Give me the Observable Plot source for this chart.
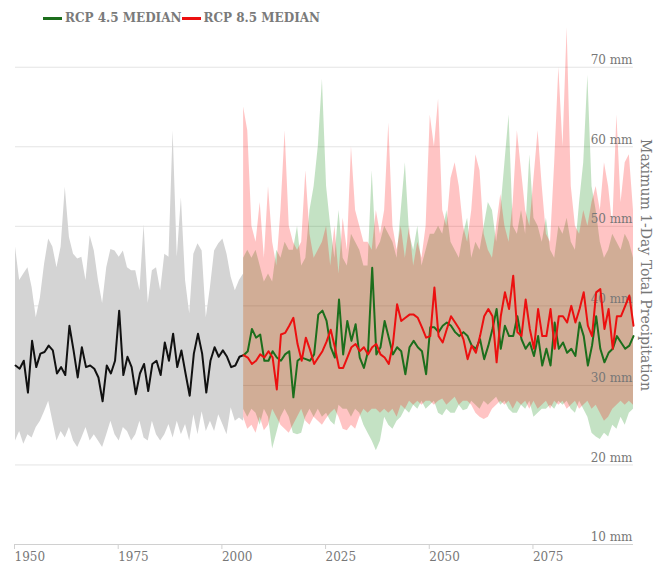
<!DOCTYPE html>
<html>
<head>
<meta charset="utf-8">
<script src="https://cdn.jsdelivr.net/npm/d3@7"></script>
<script src="https://cdn.jsdelivr.net/npm/@observablehq/plot@0.6"></script>
<style>
  body { margin: 0; background: #fff; }
  #wrap { position: relative; width: 662px; height: 567px; font-family: "DejaVu Serif", serif; }
  #legend { position: absolute; left: 43px; top: 11px; display: flex; align-items: center; font-size: 12px; font-weight: bold; color: #7a7a7a; white-space: nowrap; }
  .sw { display: inline-block; width: 19px; height: 3px; margin-right: 3px; }
</style>
</head>
<body>
<div id="wrap">
  <div id="chart"></div>
  <div id="legend"></div>
</div>
<script>
// ---- Data ----
const histStartYear = 1950;   // historical period 1950–2005
const projStartYear = 2005;   // projections 2005–2099

const histMedian = [
  32.5, 32.1, 33.1, 29.1, 35.6, 32.3, 34.0, 34.2, 35.0, 34.4,
  31.5, 32.3, 31.3, 37.5, 34.4, 31.0, 34.8, 32.3, 32.5, 32.1,
  31.0, 28.0, 32.5, 31.5, 33.1, 39.4, 31.3, 33.6, 32.3, 28.9,
  31.5, 32.7, 29.3, 32.7, 33.1, 31.3, 35.4, 33.1, 36.5, 32.3,
  34.4, 31.5, 28.7, 34.0, 36.5, 34.0, 29.1, 33.1, 34.8, 33.6,
  34.4, 33.6, 32.3, 32.5, 33.6, 33.8
];
const histHigh = [
  47.4, 43.2, 44.0, 44.8, 42.3, 38.5, 41.0, 45.2, 48.4, 47.4,
  44.8, 47.4, 54.9, 48.6, 46.5, 45.9, 46.1, 43.2, 48.8, 46.9,
  43.2, 40.3, 44.8, 47.1, 46.9, 46.1, 46.9, 44.8, 44.4, 44.4,
  41.9, 50.2, 40.3, 44.4, 44.8, 41.9, 46.5, 46.1, 62.0, 46.1,
  53.6, 43.2, 39.0, 46.5, 47.8, 46.9, 38.5, 42.3, 46.9, 47.8,
  48.4, 46.5, 43.6, 41.9, 43.2, 44.0
];
const histLow = [
  23.0, 24.2, 22.6, 23.8, 23.4, 24.7, 25.5, 26.7, 28.0, 25.5,
  23.0, 24.2, 23.4, 24.7, 23.0, 22.2, 23.4, 24.7, 23.0, 23.8,
  23.0, 22.2, 23.8, 25.5, 23.8, 23.0, 24.7, 24.2, 23.0, 23.8,
  25.5, 23.4, 23.0, 25.5, 23.8, 23.0, 23.8, 25.1, 23.4, 25.5,
  23.8, 25.1, 23.0, 26.3, 23.8, 26.7, 24.2, 25.5, 24.2, 26.3,
  25.1, 23.8, 27.2, 25.5, 25.9, 25.5
];

const rcp45Median = [
  33.8, 34.3, 37.1, 36.0, 36.4, 33.1, 33.1, 34.3, 33.5, 33.1,
  33.9, 34.3, 28.5, 33.1, 33.5, 33.3, 33.1, 33.9, 38.9, 39.4,
  38.1, 34.8, 33.5, 40.8, 33.9, 38.1, 35.6, 37.7, 33.5, 32.2,
  34.3, 44.8, 33.9, 34.8, 38.1, 36.0, 33.9, 34.8, 34.3, 31.4,
  34.8, 35.6, 34.8, 34.3, 31.4, 37.3, 37.3, 36.7, 37.5, 37.9,
  37.5, 36.7, 36.2, 36.7, 36.2, 35.0, 34.6, 35.8, 33.3, 35.0,
  37.1, 39.6, 34.6, 37.5, 36.2, 36.2, 38.7, 35.8, 34.6, 35.4,
  33.7, 36.2, 32.5, 34.6, 32.5, 37.9, 34.6, 35.4, 34.1, 34.6,
  33.7, 37.9, 36.2, 32.5, 35.0, 38.7, 34.6, 32.9, 34.1, 34.6,
  36.2, 35.4, 34.6, 35.0, 36.2
];
const rcp45High = [
  46, 47, 46, 47, 45, 43, 44, 43, 47, 46,
  48, 47, 47, 50, 45, 46, 52, 55, 60, 68.5,
  55, 50, 46, 52, 46, 45, 49, 48, 47, 45,
  45, 57, 47, 48, 50, 49, 48, 46, 52, 58,
  49, 47, 50, 45, 47, 49, 49, 50, 49, 52,
  48, 47, 46, 49, 51, 46, 48, 47, 50, 53,
  52, 48, 52, 58, 64, 50, 49, 52, 49, 59,
  51, 50, 48, 51, 47, 46, 50, 49, 51, 48,
  47, 53, 58, 69, 55, 52, 48, 46, 47, 49,
  48, 47, 49, 48, 46
];
const rcp45Low = [
  27, 26, 27, 26.5, 25, 27, 26, 22, 24, 26,
  27, 26, 24, 23.8, 24, 26, 27, 26, 27, 26,
  26.5, 25.5, 25, 27.5, 27, 27, 26, 27, 26.5, 25,
  24, 23, 21.8, 23, 26, 25, 24.5, 25.5, 26, 27,
  26.5, 27.5, 27, 28, 27, 27.5, 28, 26.5, 26.2, 27,
  26.5, 26.5, 27.5, 26.8, 27, 28, 27.5, 27, 28, 27.5,
  28, 28.5, 27.5, 28, 27, 26.5, 26.5, 27.5, 27, 28,
  26, 26.5, 27, 27, 27.5, 27, 28, 27.5, 28, 27,
  26.5, 28, 27, 26, 24, 23.5, 23.2, 24, 23.5, 25,
  24.5, 26, 25, 26.5, 27
];

const rcp85Median = [
  33.8, 33.5, 32.7, 33.1, 33.9, 33.5, 34.3, 33.5, 29.5, 36.4,
  36.6, 37.5, 38.5, 35.2, 33.1, 36.0, 34.5, 32.7, 33.5, 34.3,
  35.5, 37.0, 34.8, 32.2, 32.2, 33.5, 34.8, 35.2, 34.3, 34.8,
  33.9, 34.8, 35.2, 33.9, 33.5, 32.7, 35.2, 40.2, 38.1, 38.5,
  38.9, 38.9, 38.5, 37.3, 36.0, 36.2, 42.3, 36.2, 35.4, 37.1,
  38.7, 37.9, 37.1, 35.8, 33.3, 35.0, 34.1, 36.2, 38.7, 39.6,
  38.7, 32.9, 38.7, 41.7, 39.6, 43.8, 36.7, 36.2, 40.8, 37.1,
  34.6, 39.6, 36.2, 36.2, 39.6, 34.6, 38.7, 38.7, 37.9, 40.0,
  37.9, 39.6, 41.7, 37.5, 36.2, 41.7, 42.1, 37.1, 39.6, 34.6,
  38.7, 38.7, 40.0, 41.3, 37.5
];
const rcp85High = [
  65, 62, 50, 48, 53, 46, 55, 48, 45, 52,
  62, 50, 48, 47, 48, 57, 49, 46, 47, 48,
  50, 45, 50, 44, 51, 47, 60, 52, 50, 48,
  48, 47, 52, 49, 52, 63, 50, 47, 50, 46,
  50, 45, 48, 46, 50, 64, 60, 66, 52, 50,
  56, 58, 55, 50, 48, 52, 59, 57, 49, 47,
  46, 50, 54, 50, 48, 53, 62, 57, 52, 50,
  56, 62, 55, 49, 48, 58, 70, 60, 75, 55,
  50, 49, 52, 50, 53, 55, 52, 58, 55, 50,
  64, 53, 58, 59, 52
];
const rcp85Low = [
  26, 24.5, 25, 24, 26, 24.3, 25, 27, 26, 25,
  24.5, 24, 25, 26, 27, 25.5, 25, 26, 25.5, 25,
  25.8, 26.5, 27, 26, 24.5, 24.3, 25, 24.5, 26, 27,
  26.5, 27, 27, 26.5, 27, 26.5, 27, 26, 27.5, 27,
  28, 27.5, 28, 27.5, 28, 28, 27.5, 28, 28.3, 27.5,
  28, 28.5, 27.5, 28, 28, 27.5, 26.5, 26, 25.7, 26,
  27, 27.5, 28, 27.5, 28, 27, 28, 27.5, 28, 27,
  28, 27, 27.5, 28, 27, 28, 27.5, 28, 27, 27.5,
  28, 27, 27.5, 28, 27, 27.5, 26.5, 25.5, 26, 27,
  27.5, 28, 27.5, 28, 27.5
];

const xTicks = [1950, 1975, 2000, 2025, 2050, 2075];
const yTicks = [10, 20, 30, 40, 50, 60, 70];
const seriesNames = ["RCP 4.5 MEDIAN", "RCP 8.5 MEDIAN"];
const axisTitle = "Maximum 1-Day Total Precipitation";

// ---- Tables ----
const hist = histMedian.map((m, i) => ({year: histStartYear + i, med: m, lo: histLow[i], hi: histHigh[i]}));
const p45 = rcp45Median.map((m, i) => ({year: projStartYear + i, med: m, lo: rcp45Low[i], hi: rcp45High[i]}));
const p85 = rcp85Median.map((m, i) => ({year: projStartYear + i, med: m, lo: rcp85Low[i], hi: rcp85High[i]}));

const green = "#1c6e1c";
const red = "#ec1010";

const chart = Plot.plot({
  width: 662,
  height: 567,
  marginLeft: 15,
  marginRight: 29,
  marginTop: 19,
  marginBottom: 23,
  style: {fontFamily: "DejaVu Serif", fontSize: "12px", color: "#777", background: "white"},
  x: {domain: [1950, 2099]},
  y: {domain: [10, 76]},
  marks: [
    Plot.gridY(yTicks, {stroke: "#e4e4e4", strokeOpacity: 1}),
    Plot.areaY(hist, {x: "year", y1: "lo", y2: "hi", fill: "#d4d4d4"}),
    Plot.areaY(p45, {x: "year", y1: "lo", y2: "hi", fill: "rgb(0,128,0)", fillOpacity: 0.23}),
    Plot.areaY(p85, {x: "year", y1: "lo", y2: "hi", fill: "rgb(255,0,0)", fillOpacity: 0.23}),
    Plot.axisX({ticks: xTicks, tickSize: 5, tickPadding: 3, textAnchor: "start", dx: -1, stroke: "#d0d0d0", fill: "#777", tickFormat: d => String(d), label: null}),
    Plot.ruleY([10], {stroke: "#d0d0d0"}),
    Plot.axisY({anchor: "right", ticks: yTicks, tickSize: 0, tickPadding: 0, textAnchor: "end", dx: -1, dy: -7, fill: "#777", tickFormat: d => `${d} mm`, label: null}),
    Plot.text([axisTitle], {frameAnchor: "right", textAnchor: "middle", dx: 12, dy: -17, rotate: 90, fontSize: 14, fill: "#777"}),
    Plot.line(hist, {x: "year", y: "med", stroke: "#111", strokeWidth: 2}),
    Plot.line(p45, {x: "year", y: "med", stroke: green, strokeWidth: 2}),
    Plot.line(p85, {x: "year", y: "med", stroke: red, strokeWidth: 2})
  ]
});
document.getElementById("chart").appendChild(chart);

const legend = document.getElementById("legend");
[[seriesNames[0], green], [seriesNames[1], red]].forEach(([name, color]) => {
  const sw = document.createElement("span");
  sw.className = "sw";
  sw.style.background = color;
  const t = document.createElement("span");
  t.textContent = name;
  legend.appendChild(sw);
  legend.appendChild(t);
});
</script>
</body>
</html>
